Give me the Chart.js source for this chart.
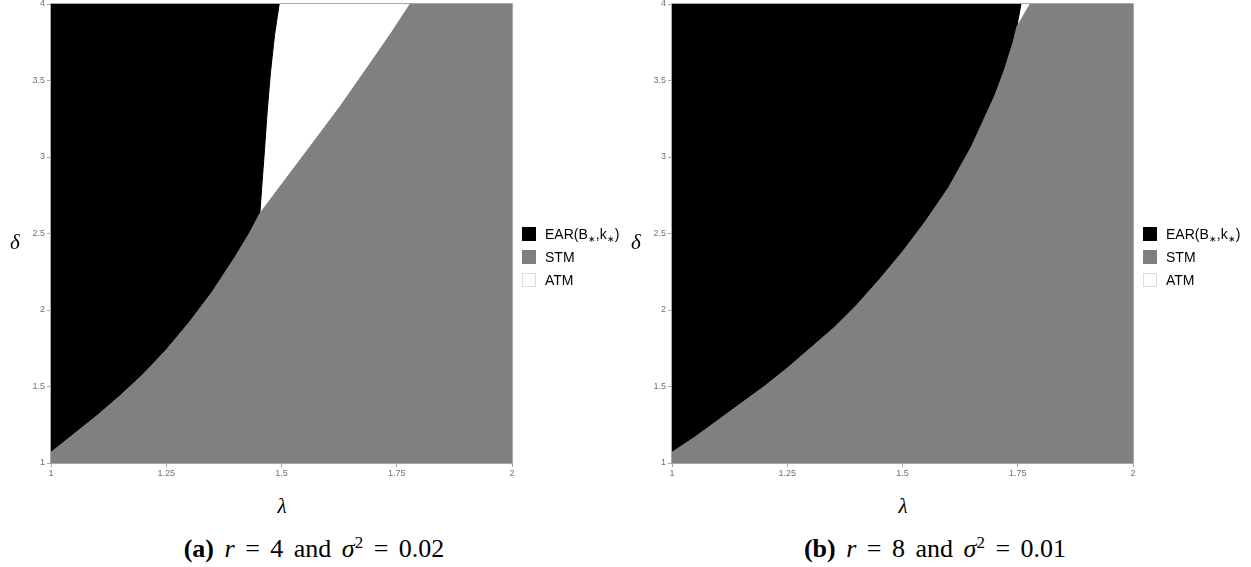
<!DOCTYPE html>
<html>
<head>
<meta charset="utf-8">
<script src="https://cdn.jsdelivr.net/npm/chart.js@4.4.1/dist/chart.umd.min.js"></script>
<style>
  html, body { margin:0; padding:0; background:#fff; }
  body { width:1251px; height:567px; position:relative; overflow:hidden; font-family:"Liberation Sans", Arial, sans-serif; }
  canvas { position:absolute; top:0; }
  .lg { position:absolute; height:16px; line-height:16px; font-size:14px; color:#000; white-space:nowrap; }
  .sw { position:absolute; width:14px; height:14px; box-sizing:border-box; }
  .ast { font-size:9px; position:relative; top:3px; }
  .ttl { position:absolute; font-family:"Liberation Serif", "DejaVu Serif", serif; font-style:italic; font-size:21px; line-height:21px; transform:translate(-50%,-50%); }
  .cap { position:absolute; font-family:"Liberation Serif", "DejaVu Serif", serif; font-size:26px; line-height:30px; word-spacing:4px; white-space:nowrap; transform:translate(-50%,-50%); }
  .cap b { font-weight:bold; }
  .cap i { font-style:italic; }
</style>
</head>
<body>
<canvas id="cA" width="625" height="480" style="left:0px;width:625px;height:480px"></canvas>
<canvas id="cB" width="625" height="480" style="left:621px;width:625px;height:480px"></canvas>

<div class="ttl" style="left:15px;top:242px">δ</div>
<div class="ttl" style="left:282px;top:506px">λ</div>
<div class="ttl" style="left:636px;top:242px">δ</div>
<div class="ttl" style="left:903px;top:506px">λ</div>

<div id="legA"></div>
<div id="legB"></div>

<div class="cap" style="left:314px;top:546px"><b>(a)</b> <i>r</i> = 4 and <i>σ</i><sup style="font-size:17px">2</sup> = 0.02</div>
<div class="cap" style="left:935px;top:546px"><b>(b)</b> <i>r</i> = 8 and <i>σ</i><sup style="font-size:17px">2</sup> = 0.01</div>

<script>
// ---------- data ----------
const xTicks = [1, 1.25, 1.5, 1.75, 2];
const yTicks = [1, 1.5, 2, 2.5, 3, 3.5, 4];
const legendLabels = ['EAR(B*,k*)', 'STM', 'ATM'];
const legendColors = ['#000000', '#808080', '#ffffff'];

// Panel (a): r = 4, sigma^2 = 0.02  (upper edge of STM region, lower/right edge of EAR region)
const lambdaA_EAR = [1, 1.05, 1.1, 1.15, 1.2, 1.25, 1.3, 1.35, 1.4, 1.43, 1.453, 1.457, 1.462, 1.469, 1.476, 1.485, 1.495];
const deltaA_EAR  = [1.07, 1.19, 1.31, 1.44, 1.58, 1.74, 1.92, 2.12, 2.35, 2.5, 2.63, 2.8, 3.0, 3.3, 3.55, 3.8, 4];
const lambdaA_STM = [1, 1.05, 1.1, 1.15, 1.2, 1.25, 1.3, 1.35, 1.4, 1.43, 1.453, 1.5, 1.555, 1.627, 1.699, 1.74, 1.779, 2];
const deltaA_STM  = [1.07, 1.19, 1.31, 1.44, 1.58, 1.74, 1.92, 2.12, 2.35, 2.5, 2.63, 2.82, 3.04, 3.33, 3.64, 3.82, 4, 4];

// Panel (b): r = 8, sigma^2 = 0.01
const lambdaB_EAR = [1, 1.05, 1.1, 1.15, 1.2, 1.25, 1.3, 1.35, 1.4, 1.45, 1.5, 1.55, 1.6, 1.65, 1.7, 1.72, 1.74, 1.748, 1.757];
const deltaB_EAR  = [1.07, 1.17, 1.28, 1.39, 1.5, 1.62, 1.75, 1.88, 2.03, 2.2, 2.38, 2.58, 2.8, 3.07, 3.4, 3.56, 3.75, 3.85, 4];
const lambdaB_STM = [1, 1.05, 1.1, 1.15, 1.2, 1.25, 1.3, 1.35, 1.4, 1.45, 1.5, 1.55, 1.6, 1.65, 1.7, 1.72, 1.74, 1.748, 1.777, 2];
const deltaB_STM  = [1.07, 1.17, 1.28, 1.39, 1.5, 1.62, 1.75, 1.88, 2.03, 2.2, 2.38, 2.58, 2.8, 3.07, 3.4, 3.56, 3.75, 3.85, 4, 4];

// ---------- drawing ----------
const AXIS = '#a8a8a8';
const TICKTXT = '#707070';
const pts = (xs, ys) => xs.map((x, i) => ({x: x, y: ys[i]}));

const framePlugin = {
  id: 'frame',
  afterDatasetsDraw(chart) {
    const {ctx, chartArea: a} = chart;
    ctx.save();
    ctx.strokeStyle = AXIS;
    ctx.lineWidth = 1;
    ctx.beginPath();
    ctx.moveTo(a.left - 0.5, a.top - 0.5);
    ctx.lineTo(a.right + 0.5, a.top - 0.5);
    ctx.lineTo(a.right + 0.5, a.bottom + 0.5);
    ctx.lineTo(a.left - 0.5, a.bottom + 0.5);
    ctx.closePath();
    ctx.stroke();
    ctx.restore();
  }
};

function makeChart(id, lx1, dy1, lx2, dy2) {
  new Chart(document.getElementById(id), {
    type: 'line',
    data: {
      datasets: [
        { label: legendLabels[1], data: pts(lx2, dy2), fill: 'start',
          backgroundColor: legendColors[1], borderColor: legendColors[1], borderWidth: 1,
          pointRadius: 0, tension: 0 },
        { label: legendLabels[0], data: pts(lx1, dy1), fill: 'end',
          backgroundColor: legendColors[0], borderColor: legendColors[0], borderWidth: 1,
          pointRadius: 0, tension: 0 }
      ]
    },
    options: {
      responsive: false, animation: false, devicePixelRatio: 1,
      layout: { padding: { left: 0, top: 4, right: 113, bottom: 0 } },
      plugins: { legend: { display: false }, tooltip: { enabled: false } },
      scales: {
        x: {
          type: 'linear', min: 1, max: 2,
          afterBuildTicks: s => { s.ticks = xTicks.map(v => ({value: v})); },
          afterFit: s => { s.height = 17; s.paddingLeft = 0; s.paddingRight = 0; },
          ticks: { color: TICKTXT, font: { size: 9, family: 'Liberation Sans' }, padding: 1,
                   maxRotation: 0, autoSkip: false, callback: v => String(v) },
          grid: { display: true, drawOnChartArea: false, drawTicks: true, tickLength: 4, color: AXIS },
          border: { display: false }
        },
        y: {
          type: 'linear', min: 1, max: 4,
          afterBuildTicks: s => { s.ticks = yTicks.map(v => ({value: v})); },
          afterFit: s => { s.width = 51; s.paddingTop = 0; s.paddingBottom = 0; },
          ticks: { color: TICKTXT, font: { size: 9, family: 'Liberation Sans' }, padding: 2,
                   autoSkip: false, callback: v => String(v) },
          grid: { display: true, drawOnChartArea: false, drawTicks: true, tickLength: 4, color: AXIS },
          border: { display: false }
        }
      }
    },
    plugins: [framePlugin]
  });
}

makeChart('cA', lambdaA_EAR, deltaA_EAR, lambdaA_STM, deltaA_STM);
makeChart('cB', lambdaB_EAR, deltaB_EAR, lambdaB_STM, deltaB_STM);

// ---------- legends ----------
function makeLegend(id, left) {
  const host = document.getElementById(id);
  const centers = [234, 257, 280];
  legendLabels.forEach((lab, i) => {
    const sw = document.createElement('div');
    sw.className = 'sw';
    sw.style.left = left + 'px';
    sw.style.top = (centers[i] - 7) + 'px';
    sw.style.background = legendColors[i];
    if (legendColors[i] === '#ffffff') sw.style.border = '1px solid #dcdcdc';
    host.appendChild(sw);
    const t = document.createElement('div');
    t.className = 'lg';
    t.style.left = (left + 23) + 'px';
    t.style.top = (centers[i] - 8) + 'px';
    if (lab.indexOf('*') >= 0) {
      t.innerHTML = lab.replace(/\*/g, '<span class="ast">∗</span>');
    } else {
      t.textContent = lab;
    }
    host.appendChild(t);
  });
}
makeLegend('legA', 522);
makeLegend('legB', 1143);
</script>
</body>
</html>
